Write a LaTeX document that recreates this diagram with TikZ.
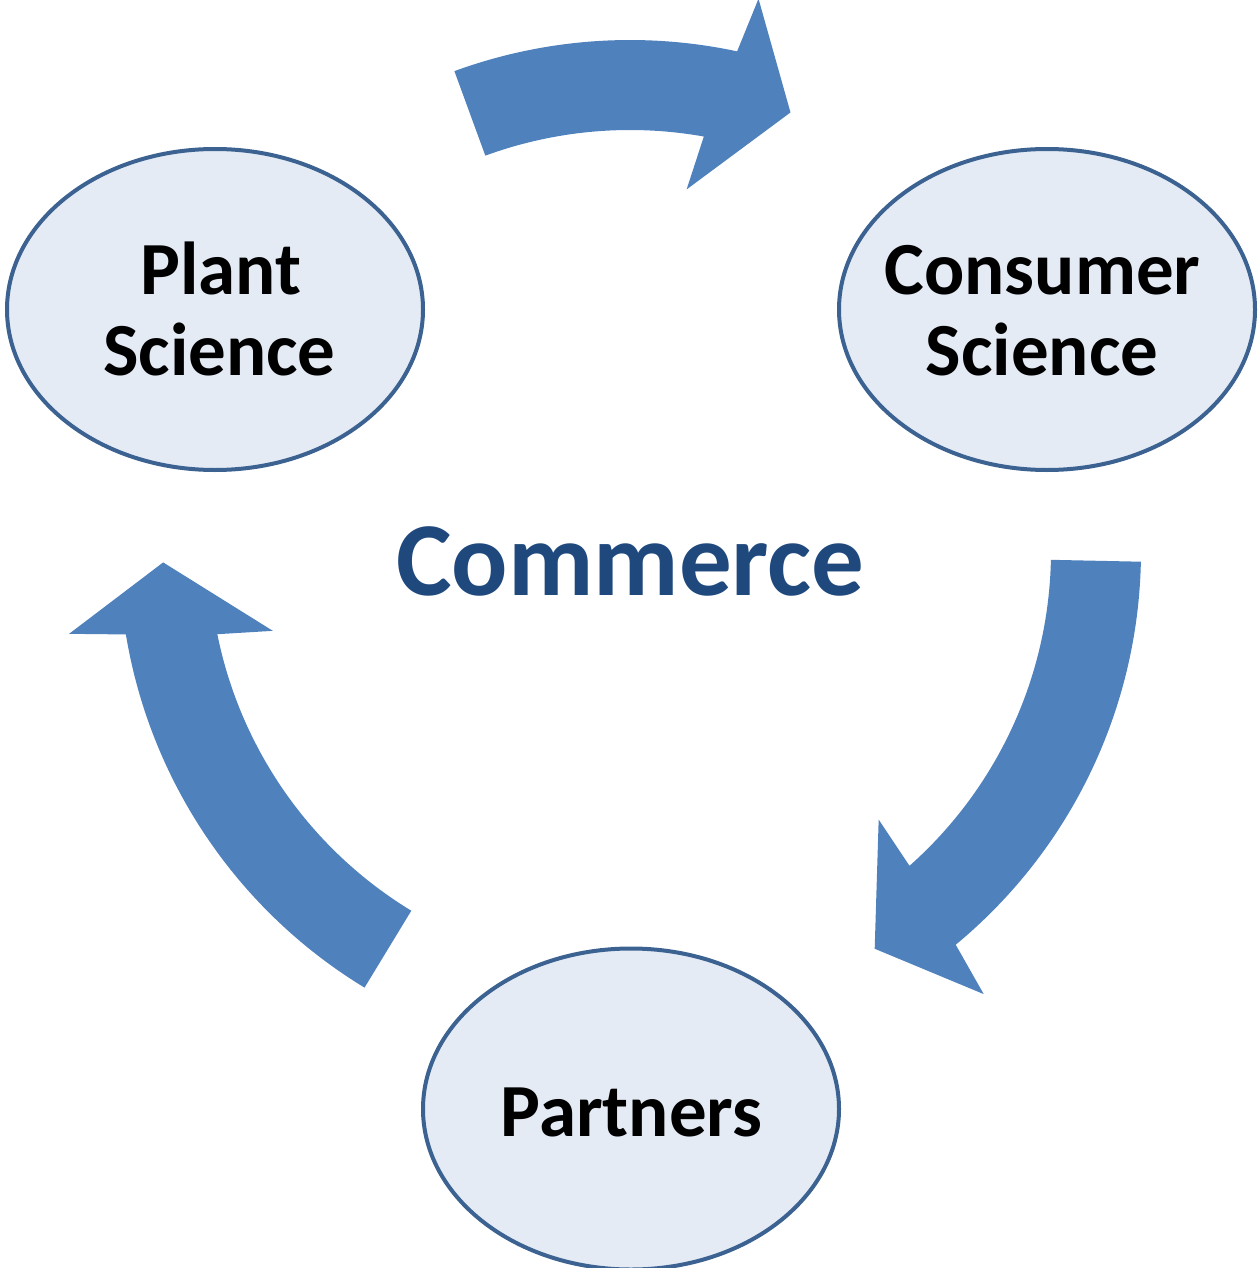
\documentclass[tikz,border=0pt]{standalone}
\usepackage{fontspec}
\setmainfont{Carlito}
\usetikzlibrary{shapes.geometric}
\definecolor{stagefill}{HTML}{E4EBF5}
\definecolor{stageline}{HTML}{3B6291}
\definecolor{flowblue}{HTML}{4F81BD}
\definecolor{hubblue}{HTML}{1F497D}
% circular block arrow around the hub: #1 tail angle, #2 angle where the head starts
\newcommand\cyclearrow[2]{%
  \fill[flow] (#1:511) arc[start angle=#1, end angle=#2, radius=511]
    -- ({#2+1}:567) -- ({#2+8}:467) -- ({#2-3.2}:366) -- ({#2-2}:421)
    arc[start angle={#2-2}, end angle=#1, radius=421] -- cycle;}
\begin{document}
\begin{tikzpicture}[x=1pt,y=-1pt,
  stage/.style={ellipse, draw=stageline, line width=4pt, fill=stagefill,
    minimum width=416pt, minimum height=321pt, inner sep=0pt},
  stagetext/.style={anchor=base, inner sep=0pt, font=\fontsize{75}{81}\selectfont\bfseries},
  hubtext/.style={anchor=base, inner sep=0pt, text=hubblue, font=\fontsize{105}{120}\selectfont\bfseries},
  flow/.style={fill=flowblue}]
\useasboundingbox (0,0) rectangle (1258,1268);

% the three stages
\node[stage] (plant) at (215,309.5) {};
\node[stage] (consumer) at (1047,309.5) {};
\node[stage] (partners) at (631,1109) {};

\node[stagetext] (plant1) at (221,294) {Plant};
\node[stagetext] (plant2) at (219.5,375) {Science};
\node[stagetext] (consumer1) at (1042.5,294) {Consumer};
\node[stagetext] (consumer2) at (1042,375) {Science};
\node[stagetext] (partners1) at (631.5,1136) {Partners};

% hub label
\node[hubtext] (hub) at (630.5,595) {Commerce};

% cycle arrows
\begin{scope}[shift={(630,551)}]
  \cyclearrow{-110.1}{-77.9}
  \cyclearrow{1.2}{50.4}
  \cyclearrow{121.3}{170.6}
\end{scope}
\end{tikzpicture}
\end{document}
